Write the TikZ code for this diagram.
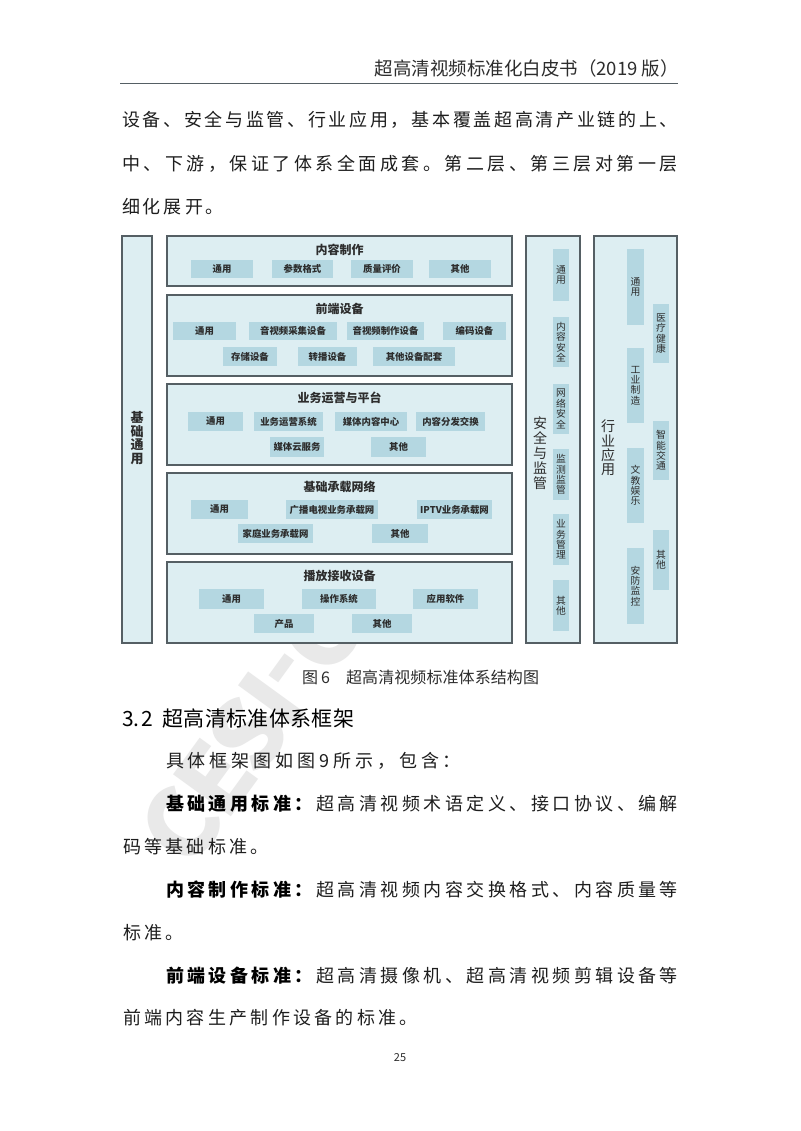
\documentclass[tikz,border=0pt]{standalone}
\usepackage{fontspec}
\setmainfont{Noto Sans CJK SC}
\definecolor{outerfill}{RGB}{221,238,242}
\definecolor{subfill}{RGB}{180,215,225}
\definecolor{bordergray}{RGB}{85,95,100}
\definecolor{txt}{RGB}{45,45,45}
\definecolor{bodytxt}{RGB}{30,30,30}
\definecolor{wm}{RGB}{233,233,233}
\def\sprA#1{\ifx\relax#1\else#1\hskip0pt plus1fil minus1fil\expandafter\sprA\fi}
\newcommand\spr[2]{\hbox to #1{\sprA#2\relax\unskip}}
\newcommand\sprbold[3]{\hbox to #1{{\bfseries\color{black}\sprA#2\relax\unskip}\hskip0pt plus1fil minus1fil\sprA#3\relax\unskip}}
\tikzset{
  outerbox/.style={draw=bordergray, line width=1.3pt, fill=outerfill, inner sep=0pt, outer sep=0pt},
  subbox/.style={fill=subfill, draw=none, inner sep=0pt, outer sep=0pt, text=txt, font=\fontsize{9.4}{10}\selectfont\bfseries},
  vsub/.style={fill=subfill, draw=none, inner sep=0pt, outer sep=0pt, text=txt, align=center, font=\fontsize{9.8}{10.4}\selectfont},
  title/.style={inner sep=0pt, text=txt, font=\fontsize{12}{12}\selectfont\bfseries},
  body/.style={inner sep=0pt, outer sep=0pt, text=bodytxt, font=\fontsize{18}{18}\selectfont},
  wmletter/.style={rotate=54, text=wm, inner sep=0pt, font=\fontsize{96}{96}\selectfont\bfseries},
}
\newcommand\rb[7][subbox]{\node[#1, minimum width={(#5-#3)*1pt}, minimum height={(#6-#4)*1pt}] (#2) at ({(#3+#5)/2},{(#4+#6)/2}) {#7};}
\begin{document}
\begin{tikzpicture}[x=1pt, y=-1pt]
\useasboundingbox (0,0) rectangle (800,1131);
\fill[white] (0,0) rectangle (800,1131);
% watermark (visible letters)
\node[wmletter] (wm1) at (180.5,825.5) {C};
\node[wmletter] (wm2) at (214.9,778.2) {E};
\node[wmletter] (wm3) at (247.3,733.7) {S};
\node[wmletter] (wm4) at (272,699.7) {I};
\node[wmletter] (wm5) at (290.5,674.2) {-};
\node[wmletter] (wm6) at (319.3,634.6) {C};
% header
\node[anchor=base east, inner sep=0pt, text=txt, font=\fontsize{18.5}{19}\selectfont] (head) at (679,76) {超高清视频标准化白皮书（2019 版）};
\coordinate (hr1) at (120,83.5);
\coordinate (hr2) at (678,83.5);
\draw[draw=bordergray, line width=0.9pt] (hr1) -- (hr2);
% top paragraph
\node[body, anchor=base west] (p1) at (122,126.8) {\spr{556pt}{设备、安全与监管、行业应用，基本覆盖超高清产业链的上、}};
\node[body, anchor=base west] (p2) at (122,170.8) {\spr{556pt}{中、下游，保证了体系全面成套。第二层、第三层对第一层}};
\node[body, anchor=base west] (p3) at (122,213.8) {\spr{102pt}{细化展开。}};
% ===== diagram =====
% left
\rb[outerbox]{jc}{122}{236}{152}{643}{}
\node[inner sep=0pt, text=txt, align=center, font=\fontsize{13}{13.6}\selectfont\bfseries] (jct) at (137,438) {基\\础\\通\\用};
% main boxes
\rb[outerbox]{b1}{167}{236}{512}{286}{}
\node[title] (b1t) at (339.5,250) {内容制作};
\rb{b1a}{191}{260}{253}{278}{通用}
\rb{b1b}{272}{260}{333}{278}{参数格式}
\rb{b1c}{351}{260}{413}{278}{质量评价}
\rb{b1d}{429}{260}{491}{278}{其他}
\rb[outerbox]{b2}{167}{295}{512}{376}{}
\node[title] (b2t) at (339.5,309) {前端设备};
\rb{b2a}{173}{322}{236}{340}{通用}
\rb{b2b}{249}{322}{337}{340}{音视频采集设备}
\rb{b2c}{347}{322}{424}{340}{音视频制作设备}
\rb{b2d}{443}{322}{506}{340}{编码设备}
\rb{b2e}{223}{347}{277}{366}{存储设备}
\rb{b2f}{298}{347}{357}{366}{转播设备}
\rb{b2g}{373}{347}{455}{366}{其他设备配套}
\rb[outerbox]{b3}{167}{384}{512}{465}{}
\node[title] (b3t) at (339.5,398) {业务运营与平台};
\rb{b3a}{188}{412}{243}{431}{通用}
\rb{b3b}{254}{412}{323}{431}{业务运营系统}
\rb{b3c}{335}{412}{407}{431}{媒体内容中心}
\rb{b3d}{416}{412}{485}{431}{内容分发交换}
\rb{b3e}{270}{437}{324}{457}{媒体云服务}
\rb{b3f}{371}{437}{426}{457}{其他}
\rb[outerbox]{b4}{167}{473}{512}{554}{}
\node[title] (b4t) at (339.5,487) {基础承载网络};
\rb{b4a}{191}{500}{248}{519}{通用}
\rb{b4b}{286}{500}{378}{519}{广播电视业务承载网}
\rb{b4c}{417}{500}{492}{519}{IPTV业务承载网}
\rb{b4d}{238}{524}{313}{543}{家庭业务承载网}
\rb{b4e}{372}{524}{428}{543}{其他}
\rb[outerbox]{b5}{167}{562}{512}{643}{}
\node[title] (b5t) at (339.5,576) {播放接收设备};
\rb{b5a}{199}{589}{264}{609}{通用}
\rb{b5b}{302}{589}{376}{609}{操作系统}
\rb{b5c}{413}{589}{478}{609}{应用软件}
\rb{b5d}{254}{614}{314}{633}{产品}
\rb{b5e}{352}{614}{412}{633}{其他}
% security column
\rb[outerbox]{aq}{526}{236}{580}{643}{}
\node[inner sep=0pt, text=txt, align=center, font=\fontsize{14}{15}\selectfont] (aqt) at (540,453) {安\\全\\与\\监\\管};
\rb[vsub]{aq1}{553}{249}{569}{301}{通\\用}
\rb[vsub]{aq2}{553}{317}{569}{367}{内\\容\\安\\全}
\rb[vsub]{aq3}{553}{384}{569}{434}{网\\络\\安\\全}
\rb[vsub]{aq4}{553}{449}{569}{500}{监\\测\\监\\管}
\rb[vsub]{aq5}{553}{514}{569}{565}{业\\务\\管\\理}
\rb[vsub]{aq6}{553}{580}{569}{631}{其\\他}
% industry column
\rb[outerbox]{hy}{594}{236}{677}{643}{}
\node[inner sep=0pt, text=txt, align=center, font=\fontsize{14}{14.3}\selectfont] (hyt) at (608,448) {行\\业\\应\\用};
\rb[vsub]{hy1}{627}{249}{644}{325}{通\\用}
\rb[vsub]{hy2}{627}{348}{644}{423}{工\\业\\制\\造}
\rb[vsub]{hy3}{627}{448}{644}{523}{文\\教\\娱\\乐}
\rb[vsub]{hy4}{627}{548}{644}{624}{安\\防\\监\\控}
\rb[vsub]{hy5}{653}{304}{669}{363}{医\\疗\\健\\康}
\rb[vsub]{hy6}{653}{421}{669}{480}{智\\能\\交\\通}
\rb[vsub]{hy7}{653}{530}{669}{590}{其\\他}
% caption
\node[anchor=base west, inner sep=0pt, text=txt, font=\fontsize{16}{16}\selectfont] (cap) at (302,683) {图\hspace{3pt}6\hspace{16pt}\spr{193pt}{超高清视频标准体系结构图}};
% heading
\node[anchor=base west, inner sep=0pt, text=black, font=\fontsize{21}{21}\selectfont] (h32) at (122,726) {3.\hspace{2pt}2\hspace{9pt}\spr{192pt}{超高清标准体系框架}};
% lower paragraphs
\node[body, anchor=base west] (q1) at (166,767.8) {\spr{295pt}{具体框架图如图9所示，包含：}};
\node[body, anchor=base west] (q2) at (166,810.8) {\sprbold{512pt}{基础通用标准：}{超高清视频术语定义、接口协议、编解}};
\node[body, anchor=base west] (q3) at (123,853.8) {\spr{145.8pt}{码等基础标准。}};
\node[body, anchor=base west] (q4) at (166,896.8) {\sprbold{512pt}{内容制作标准：}{超高清视频内容交换格式、内容质量等}};
\node[body, anchor=base west] (q5) at (123,939.8) {\spr{60.6pt}{标准。}};
\node[body, anchor=base west] (q6) at (166,982.8) {\sprbold{512pt}{前端设备标准：}{超高清摄像机、超高清视频剪辑设备等}};
\node[body, anchor=base west] (q7) at (123,1024.8) {\spr{294.9pt}{前端内容生产制作设备的标准。}};
% page number
\node[inner sep=0pt, text=txt, font=\fontsize{11}{11}\selectfont] (pg) at (400,1058) {25};
\end{tikzpicture}
\end{document}
